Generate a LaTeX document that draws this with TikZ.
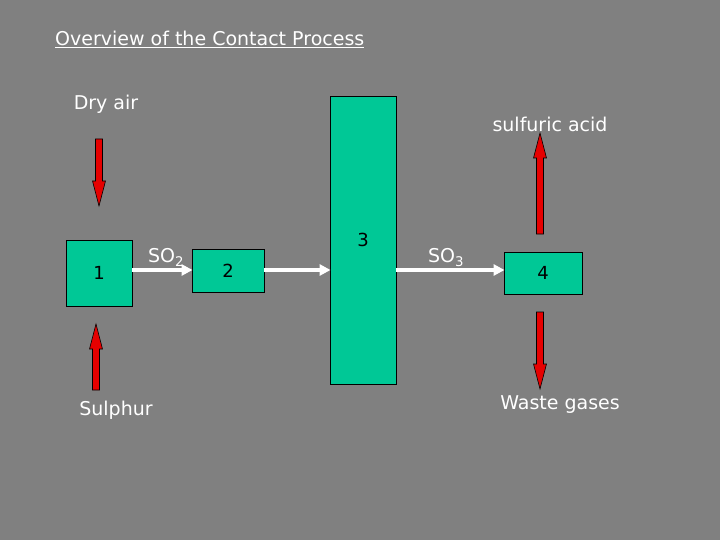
\documentclass[tikz,border=0pt]{standalone}
\usepackage{fontspec}
\setmainfont{DejaVu Sans}
\usetikzlibrary{arrows.meta}
\definecolor{bg}{RGB}{128,128,128}
\definecolor{teal}{RGB}{0,200,150}
\definecolor{redA}{RGB}{230,0,0}
\tikzset{
  box/.style={draw=black, line width=0.9pt, fill=teal, inner sep=0pt, font=\fontsize{18}{21}\selectfont},
  lbl/.style={text=white, inner sep=0pt, font=\fontsize{19}{22}\selectfont},
  flow/.style={draw=white, line width=4pt, -{Triangle[length=11pt,width=11pt]}, shorten >=-1pt},
  redarr/.style={fill=redA, draw=black, line width=0.6pt, line join=miter},
  pics/downarrow/.style={code={
    \draw[redarr] (-3.5,0) -- (-3.5,#1-25) -- (-6.5,#1-25) -- (0,#1) -- (6.5,#1-25) -- (3.5,#1-25) -- (3.5,0) -- cycle;}}
}
\begin{document}
\begin{tikzpicture}[x=1pt,y=-1pt]
\fill[bg] (0,0) rectangle (720,540);
\useasboundingbox (0,0) rectangle (720,540);
% title
\node[lbl, font=\fontsize{19}{22}\selectfont, anchor=west] (title) at (55,39) {\underline{Overview of the Contact Process}};
% boxes
\node[box, minimum width=66pt, minimum height=66pt] (b1) at (99,273) {1};
\node[box, minimum width=72pt, minimum height=43pt] (b2) at (228,270.5) {2};
\node[box, minimum width=66pt, minimum height=288pt] (b3) at (363,240) {};
\node[box, minimum width=78pt, minimum height=42pt] (b4) at (543,273) {4};
\node[inner sep=0pt, font=\fontsize{18}{21}\selectfont] (n3) at (363,240) {3};
% flows
\draw[flow] (b1.east |- 0,270) -- (b2.west |- 0,270);
\draw[flow] (b2.east |- 0,270) -- (b3.west |- 0,270);
\draw[flow] (b3.east |- 0,270) -- (b4.west |- 0,270);
% labels
\node[lbl] (so2) at (166,257) {SO\textsubscript{2}};
\node[lbl] (so3) at (446,258) {SO\textsubscript{3}};
\node[lbl] (dry) at (106,104) {Dry air};
\node[lbl] (sulph) at (116,410) {Sulphur};
\node[lbl] (acid) at (550,124) {sulfuric acid};
\node[lbl] (waste) at (560,405) {Waste gases};
% red arrows
\coordinate (ra1) at (99,139);
\coordinate (ra2) at (96,390);
\coordinate (ra3) at (540,234);
\coordinate (ra4) at (540,312);
\pic at (ra1) {downarrow=67};
\pic[rotate=180] at (ra2) {downarrow=66};
\pic[rotate=180] at (ra3) {downarrow=101};
\pic at (ra4) {downarrow=77};
\end{tikzpicture}
\end{document}
